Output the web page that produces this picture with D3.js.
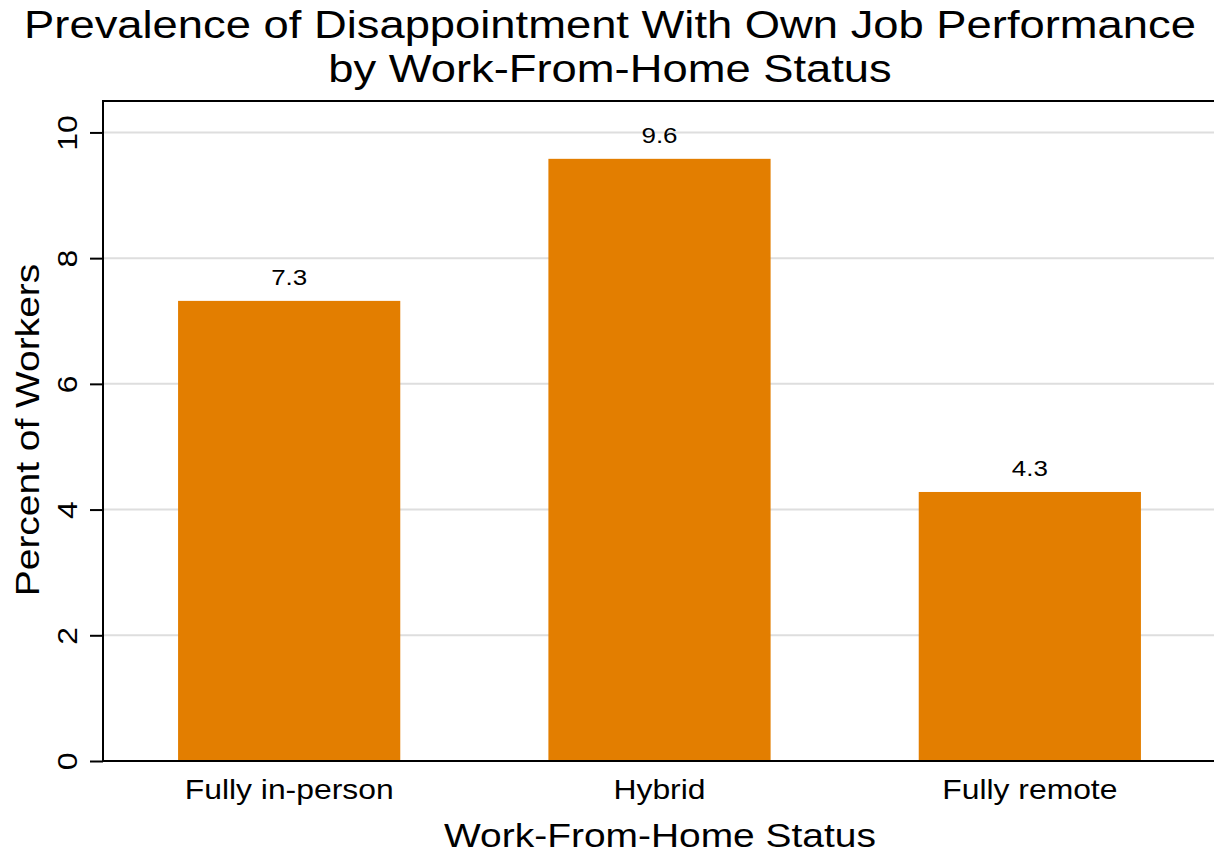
<!DOCTYPE html>
<html>
<head>
<meta charset="utf-8">
<script src="https://cdn.jsdelivr.net/npm/d3@7"></script>
<style>
  body { margin: 0; background: #fff; }
  text { font-family: "Liberation Sans", Arial, Helvetica, sans-serif; }
</style>
</head>
<body>
<div id="chart"></div>
<script>
const categories = ["Fully in-person", "Hybrid", "Fully remote"];
const values = [7.32, 9.58, 4.28];
const yTicks = [0, 2, 4, 6, 8, 10];

const W = 1214, H = 856;
const plotLeft = 103, plotRight = 1214, plotTop = 101, plotBottom = 761;
// the reference font is set wider than Liberation Sans
const stretch = 1.18;

const svg = d3.select("#chart").append("svg")
  .attr("width", W).attr("height", H);

const x = d3.scaleBand()
  .domain(categories)
  .range([plotLeft, plotRight])
  .paddingInner(0.4)
  .paddingOuter(0.2);

const y = d3.scaleLinear()
  .domain([0, 10.5])
  .range([plotBottom, plotTop]);

// grid lines
svg.append("g")
  .selectAll("line")
  .data(yTicks.filter(d => d > 0))
  .enter().append("line")
  .attr("x1", plotLeft).attr("x2", plotRight)
  .attr("y1", d => y(d)).attr("y2", d => y(d))
  .attr("stroke", "#dedede")
  .attr("stroke-width", 2);

// bars
svg.append("g")
  .selectAll("rect")
  .data(values)
  .enter().append("rect")
  .attr("x", (d, i) => x(categories[i]) + 1)
  .attr("width", x.bandwidth())
  .attr("y", d => y(d))
  .attr("height", d => plotBottom - y(d))
  .attr("fill", "#e37e00");

// value labels
svg.append("g")
  .selectAll("text")
  .data(values)
  .enter().append("text")
  .attr("transform", (d, i) => `translate(${x(categories[i]) + 1 + x.bandwidth() / 2},${y(d) - 16}) scale(${stretch},1)`)
  .attr("text-anchor", "middle")
  .attr("font-size", 22)
  .attr("fill", "#000")
  .text(d => d.toFixed(1));

// y axis
const yAxis = svg.append("g")
  .attr("transform", `translate(${plotLeft},0)`)
  .call(d3.axisLeft(y).tickValues(yTicks).tickSize(13).tickFormat(d3.format("d")));
yAxis.select(".domain").remove();
yAxis.selectAll(".tick line").attr("stroke", "#000").attr("stroke-width", 2);
yAxis.selectAll(".tick text")
  .attr("font-size", 27)
  .attr("fill", "#000")
  .attr("text-anchor", "middle")
  .attr("x", 0).attr("y", 0).attr("dy", 0)
  .attr("transform", `translate(-26,0) rotate(-90) scale(${stretch},1)`);

// x axis
const xAxis = svg.append("g")
  .attr("transform", `translate(0,${plotBottom})`)
  .call(d3.axisBottom(x).tickSize(0).tickPadding(19));
xAxis.select(".domain").remove();
xAxis.selectAll(".tick").attr("transform", d => `translate(${x(d) + 1 + x.bandwidth() / 2},0)`);
xAxis.selectAll(".tick text")
  .attr("font-size", 27)
  .attr("fill", "#000")
  .attr("dy", "0.71em")
  .attr("transform", `scale(${stretch},1)`);

// frame lines
svg.append("line").attr("x1", plotLeft).attr("x2", plotRight).attr("y1", plotTop).attr("y2", plotTop)
  .attr("stroke", "#000").attr("stroke-width", 2);
svg.append("line").attr("x1", plotLeft).attr("x2", plotRight).attr("y1", plotBottom).attr("y2", plotBottom)
  .attr("stroke", "#000").attr("stroke-width", 2);
svg.append("line").attr("x1", plotLeft).attr("x2", plotLeft).attr("y1", plotTop - 1).attr("y2", plotBottom + 1)
  .attr("stroke", "#000").attr("stroke-width", 2);

// title
svg.append("text")
  .attr("transform", "translate(610,38) scale(1.163,1)")
  .attr("text-anchor", "middle").attr("font-size", 39)
  .text("Prevalence of Disappointment With Own Job Performance");
svg.append("text")
  .attr("transform", "translate(610,82) scale(1.163,1)")
  .attr("text-anchor", "middle").attr("font-size", 39)
  .text("by Work-From-Home Status");

// axis titles
svg.append("text")
  .attr("transform", `translate(660,847) scale(${stretch},1)`)
  .attr("text-anchor", "middle").attr("font-size", 33)
  .text("Work-From-Home Status");
svg.append("text")
  .attr("transform", `translate(39,430) rotate(-90) scale(${stretch},1)`)
  .attr("text-anchor", "middle").attr("font-size", 33)
  .text("Percent of Workers");
</script>
</body>
</html>
